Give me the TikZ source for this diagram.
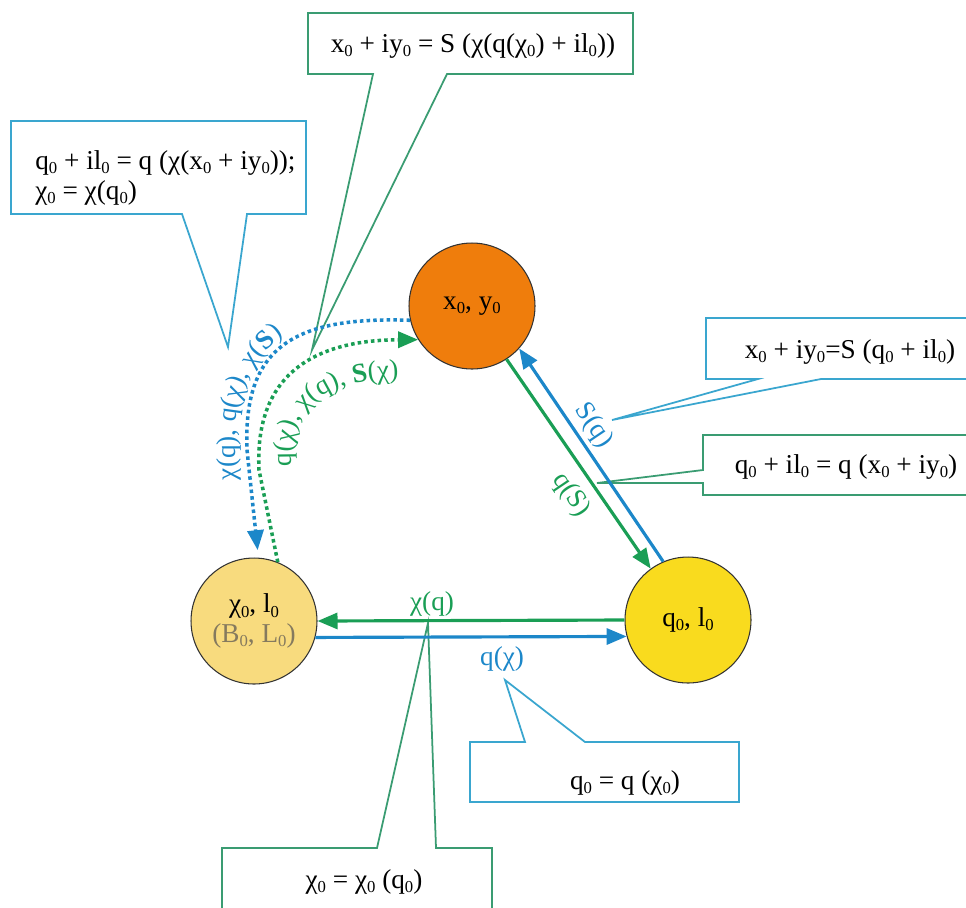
\documentclass[tikz,border=0pt]{standalone}
\usepackage{fontspec}
\setmainfont{Liberation Serif}
\usetikzlibrary{arrows.meta,decorations.text}
\definecolor{mapgreen}{HTML}{1A9E55}
\definecolor{mapblue}{HTML}{1C87C9}
\definecolor{boxgreen}{HTML}{3A9C72}
\definecolor{boxblue}{HTML}{3AA6CF}
\definecolor{orangefill}{HTML}{EF7D0C}
\definecolor{yellowfill}{HTML}{F9DB1E}
\definecolor{palefill}{HTML}{F8DB7E}
\definecolor{paletext}{HTML}{857A5E}
\newcommand{\zo}{\raisebox{-0.35ex}{\fontsize{9.5}{9.5}\selectfont 0}}
\newcommand{\eqsize}{\fontsize{15.5}{17}\selectfont}

\begin{document}
\begin{tikzpicture}[x=0.02cm,y=-0.02cm,
  state/.style={circle,draw=black!80,line width=0.6pt,minimum size=2.52cm,inner sep=0pt,font=\eqsize},
  eq/.style={font=\eqsize,inner sep=0pt},
  lbl/.style={font=\eqsize,inner sep=1.5pt},
  mapg/.style={mapgreen,line width=1.8pt,-{Triangle[length=4mm,width=3.2mm]}},
  mapb/.style={mapblue,line width=1.8pt,-{Triangle[length=4mm,width=3.2mm]}},
  dotg/.style={mapg,line width=2pt,dash pattern=on 2pt off 1.8pt},
  dotb/.style={mapb,line width=2pt,dash pattern=on 2pt off 1.8pt},
  boxg/.style={draw=boxgreen,line width=1pt,fill=white},
  boxb/.style={draw=boxblue,line width=1pt,fill=white}]
  \useasboundingbox (0,0) rectangle (966,907);

  % callout tips
  \coordinate (tipA) at (228,347);
  \coordinate (tipB) at (312,350);
  \coordinate (tipC) at (612,420);
  \coordinate (tipD) at (597,483);
  \coordinate (tipE) at (505,680);
  \coordinate (tipF) at (428,623);

  % callouts
  \draw[boxb] (11,121) -- (306,121) -- (306,214) -- (247,214) -- (tipA) -- (182,214) -- (11,214) -- cycle;
  \draw[boxg] (308,13) -- (633,13) -- (633,74) -- (447,74) -- (tipB) -- (373,74) -- (308,74) -- cycle;
  \draw[boxb] (706,318) -- (975,318) -- (975,379) -- (821,379) -- (tipC) -- (758,379) -- (706,379) -- cycle;
  \draw[boxg] (703,435) -- (975,435) -- (975,495) -- (703,495) -- (703,483) -- (tipD) -- (703,470) -- cycle;
  \draw[boxb] (470,742) -- (525,742) -- (tipE) -- (585,742) -- (739,742) -- (739,802) -- (470,802) -- cycle;
  \draw[boxg] (222,848) -- (377,848) -- (tipF) -- (436,848) -- (492,848) -- (492,915) -- (222,915) -- cycle;

  \node[eq,anchor=west,align=left] (eqA) at (35,178) {q\zo{} + il\zo{} = q (χ(x\zo{} + iy\zo));\\χ\zo{} = χ(q\zo)};
  \node[eq] (eqB) at (473,46) {x\zo{} + iy\zo{} = S (χ(q(χ\zo) + il\zo))};
  \node[eq] (eqC) at (850,352) {x\zo{} + iy\zo{}=S (q\zo{} + il\zo)};
  \node[eq] (eqD) at (846,467) {q\zo{} + il\zo{} = q (x\zo{} + iy\zo)};
  \node[eq] (eqE) at (625,783) {q\zo{} = q (χ\zo)};
  \node[eq] (eqF) at (364,882) {χ\zo{} = χ\zo{} (q\zo)};

  % the three states
  \node[state,fill=orangefill] (xy) at (472,306) {x\zo, y\zo};
  \node[state,fill=yellowfill] (ql) at (688,620) {q\zo, l\zo};
  \node[state,fill=palefill,align=center] (chil) at (254,621) {χ\zo, l\zo\\{\color{paletext}(B\zo, L\zo)}};

  % direct maps
  \draw[mapg] (ql.180) -- (chil.0) node[lbl,pos=0.627,above,mapgreen] (lchiq) {χ(q)};
  \draw[mapb] (chil.-15) -- (ql.195) node[lbl,pos=0.6,below=3pt,mapblue] (lqchi) {q(χ)};
  \draw[mapg] (xy.-57) -- (ql.126) node[lbl,pos=0.585,rotate=-56,below=4pt,mapgreen] (lqs) {q(S)};
  \draw[mapb] (ql.113) -- (xy.-42) node[lbl,pos=0.59,rotate=-56,above=1pt,mapblue] (lsq) {S(q)};

  % composed maps
  \draw[dotb,shorten >=0.15cm] (xy.193) .. controls (290,316) and (243,350) .. (247,450) -- (chil.86);
  \draw[dotg] (chil.68) -- (259,470) .. controls (254,370) and (320,340) .. (xy.212);
  \path[decorate,decoration={text along path,text align={left indent=0pt},
    text={|\eqsize\color{mapblue}|χ(q), q(χ), χ(|\eqsize\bfseries\color{mapblue}|S|\eqsize\mdseries\color{mapblue}|)}}]
    (235,480) -- (235,430) .. controls (236,385) and (262,330) .. (330,316);
  \path[decorate,decoration={text along path,text align={left indent=0pt},
    text={|\eqsize\color{mapgreen}|q(χ), χ(q), |\eqsize\bfseries\color{mapgreen}|S|\eqsize\mdseries\color{mapgreen}|(χ)}}]
    (292,466) .. controls (288,400) and (330,378) .. (410,378);
\end{tikzpicture}
\end{document}
